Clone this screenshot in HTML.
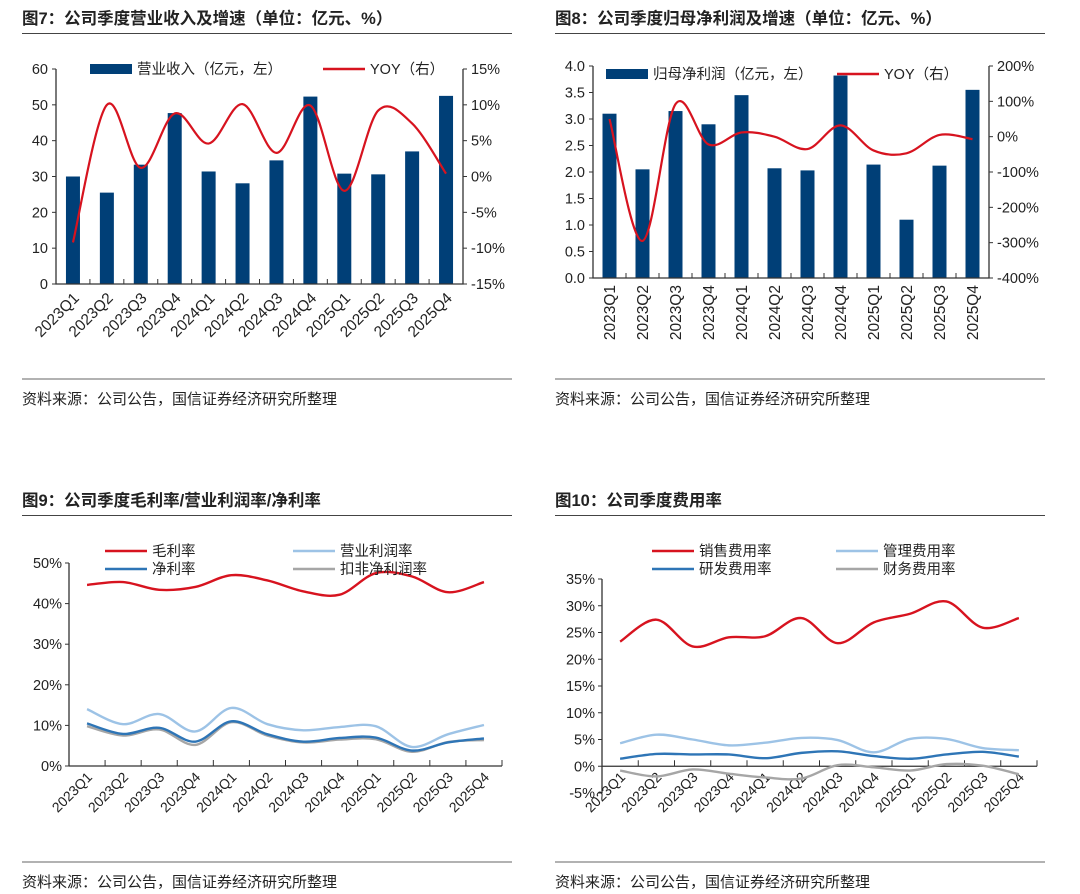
<!DOCTYPE html>
<html><head><meta charset="utf-8">
<style>
html,body{margin:0;padding:0;background:#fff;}
svg{display:block;font-family:"Liberation Sans","Noto Sans CJK SC",sans-serif;}
</style></head>
<body>
<svg id="root" width="1080" height="894" viewBox="0 0 1080 894" xmlns="http://www.w3.org/2000/svg">
<g>
<text x="22" y="24" font-size="16.5" font-weight="bold" fill="#222">图7：公司季度营业收入及增速（单位：亿元、%）</text>
<line x1="22" y1="33.5" x2="512" y2="33.5" stroke="#444" stroke-width="1"/>
<line x1="22" y1="379" x2="512" y2="379" stroke="#666" stroke-width="1"/>
<text x="22" y="404" font-size="15" fill="#222">资料来源：公司公告，国信证券经济研究所整理</text>
</g>
<g>
<text x="555" y="24" font-size="16.5" font-weight="bold" fill="#222">图8：公司季度归母净利润及增速（单位：亿元、%）</text>
<line x1="555" y1="33.5" x2="1045" y2="33.5" stroke="#444" stroke-width="1"/>
<line x1="555" y1="379" x2="1045" y2="379" stroke="#666" stroke-width="1"/>
<text x="555" y="404" font-size="15" fill="#222">资料来源：公司公告，国信证券经济研究所整理</text>
</g>
<g>
<text x="22" y="506" font-size="16.5" font-weight="bold" fill="#222">图9：公司季度毛利率/营业利润率/净利率</text>
<line x1="22" y1="515.5" x2="512" y2="515.5" stroke="#444" stroke-width="1"/>
<line x1="22" y1="862" x2="512" y2="862" stroke="#666" stroke-width="1"/>
<text x="22" y="887" font-size="15" fill="#222">资料来源：公司公告，国信证券经济研究所整理</text>
</g>
<g>
<text x="555" y="506" font-size="16.5" font-weight="bold" fill="#222">图10：公司季度费用率</text>
<line x1="555" y1="515.5" x2="1045" y2="515.5" stroke="#444" stroke-width="1"/>
<line x1="555" y1="862" x2="1045" y2="862" stroke="#666" stroke-width="1"/>
<text x="555" y="887" font-size="15" fill="#222">资料来源：公司公告，国信证券经济研究所整理</text>
</g>
</svg>
<script>
const quarters = ["2023Q1","2023Q2","2023Q3","2023Q4","2024Q1","2024Q2","2024Q3","2024Q4","2025Q1","2025Q2","2025Q3","2025Q4"];
const revenue = [30,25.5,33.3,47.7,31.4,28.1,34.5,52.3,30.8,30.6,37,52.5];
const revenueYoy = [-9.2,10,1.2,8.8,4.6,10.1,3.3,9.9,-2,9.2,7.4,0.4];
const revLeftTicks = [0,10,20,30,40,50,60];
const revRightTicks = [-15,-10,-5,0,5,10,15];
const profit = [3.1,2.05,3.15,2.9,3.45,2.07,2.03,3.82,2.14,1.1,2.12,3.55];
const profitYoy = [50,-295,92,-22,12,0,-35,32,-39,-47,5,-7];
const profLeftTicks = [0,0.5,1,1.5,2,2.5,3,3.5,4];
const profRightTicks = [-400,-300,-200,-100,0,100,200];
const grossMargin = [44.6,45.3,43.4,44.1,47,45.7,43,42.2,47.5,46.7,42.8,45.3];
const opMargin = [14,10.3,12.8,8.5,14.3,10.3,8.8,9.6,9.8,4.7,7.8,10.1];
const netMargin = [10.5,7.9,9.4,6,11,7.8,6,6.9,7,3.8,5.8,6.8];
const deductedMargin = [9.8,7.5,9,5.2,10.8,7.5,5.8,6.5,6.6,3.5,5.9,6.4];
const marginTicks = [0,10,20,30,40,50];
const salesExp = [23.3,27.4,22.4,24.1,24.3,27.7,23,26.9,28.5,30.8,25.9,27.7];
const mgmtExp = [4.3,5.9,5,3.9,4.4,5.3,4.9,2.6,5.1,5.1,3.4,3.0];
const rdExp = [1.4,2.3,2.2,2.2,1.5,2.5,2.8,1.9,1.4,2.2,2.7,1.8];
const finExp = [-0.8,-1.9,-0.6,-1.4,-2.1,-2.3,0.2,-0.2,-0.8,0.4,0.1,-1.5];
const expTicks = [-5,0,5,10,15,20,25,30,35];

const NS="http://www.w3.org/2000/svg";
const root=document.getElementById('root');
function mk(tag,attrs,parent){const e=document.createElementNS(NS,tag);for(const k in attrs)e.setAttribute(k,attrs[k]);(parent||root).appendChild(e);return e;}
function smooth(pts){
  let d="M"+pts[0][0]+","+pts[0][1];
  for(let i=0;i<pts.length-1;i++){
    const p0=pts[Math.max(0,i-1)],p1=pts[i],p2=pts[i+1],p3=pts[Math.min(pts.length-1,i+2)];
    const t=1/6;
    d+=" C"+(p1[0]+(p2[0]-p0[0])*t)+","+(p1[1]+(p2[1]-p0[1])*t)+" "+(p2[0]-(p3[0]-p1[0])*t)+","+(p2[1]-(p3[1]-p1[1])*t)+" "+p2[0]+","+p2[1];
  }
  return d;
}
function linScale(d0,d1,r0,r1){return v=>r0+(v-d0)*(r1-r0)/(d1-d0);}

function barChart(cfg){
  const g=mk('g',{});
  
  
  const n=quarters.length, slot=(cfg.x1-cfg.x0)/n;
  const xc=i=>cfg.x0+slot*(i+0.5);
  const yL=linScale(cfg.lt[0],cfg.lt[cfg.lt.length-1],cfg.yb,cfg.yt);
  const yR=linScale(cfg.rt[0],cfg.rt[cfg.rt.length-1],cfg.yb,cfg.yt);
  cfg.bars.forEach((v,i)=>{
    const r=mk('rect',{x:xc(i)-7,y:yL(v),width:14,height:cfg.yb-yL(v),fill:'#003f77'},g);
    
    
  });
  const ax=mk('path',{d:`M${cfg.x0},${cfg.yt}V${cfg.yb}H${cfg.x1}V${cfg.yt}`,fill:'none',stroke:'#333','stroke-width':1.3},g);
  
  
  cfg.lt.forEach(v=>{
    mk('line',{x1:cfg.x0-4,x2:cfg.x0,y1:yL(v),y2:yL(v),stroke:'#333'},g);
    const t=mk('text',{x:cfg.x0-8,y:yL(v)+5,'text-anchor':'end','font-size':14.5,fill:'#222'},g);
    t.textContent=cfg.lfmt(v);
    
    
  });
  cfg.rt.forEach(v=>{
    mk('line',{x1:cfg.x1,x2:cfg.x1+4,y1:yR(v),y2:yR(v),stroke:'#333'},g);
    const t=mk('text',{x:cfg.x1+8,y:yR(v)+5,'font-size':14.5,fill:'#222'},g);
    t.textContent=v+'%';
    
    
  });
  for(let i=1;i<n;i++) mk('line',{x1:cfg.x0+slot*i,x2:cfg.x0+slot*i,y1:cfg.yb-5,y2:cfg.yb,stroke:'#333'},g);
  quarters.forEach((q,i)=>{
    let t;
    if(cfg.rot===-90){t=mk('text',{x:0,y:0,'text-anchor':'end','font-size':15.5,fill:'#222',transform:`translate(${xc(i)+5.5},${cfg.yb+7}) rotate(-90)`},g);}
    else{t=mk('text',{x:0,y:0,'text-anchor':'end','font-size':15.5,fill:'#222',transform:`translate(${xc(i)+7},${cfg.yb+15}) rotate(-45)`},g);}
    t.textContent=q;
    
    
  });
  const ln=mk('path',{d:smooth(cfg.line.map((v,i)=>[xc(i),yR(v)])),fill:'none',stroke:'#d7131f','stroke-width':2.2},g);
  
  
  const lr=mk('rect',{x:cfg.lg[0],y:cfg.lg[1]-5,width:42,height:10,fill:'#003f77'},g);
  
  
  const lt1=mk('text',{x:cfg.lg[0]+47,y:cfg.lg[1]+5,'font-size':14.5,fill:'#222'},g);
  lt1.textContent=cfg.barLabel;
  
  
  const ll=mk('line',{x1:cfg.lg[2],x2:cfg.lg[2]+42,y1:cfg.lg[1],y2:cfg.lg[1],stroke:'#d7131f','stroke-width':2.5},g);
  
  
  const lt2=mk('text',{x:cfg.lg[2]+47,y:cfg.lg[1]+5,'font-size':14.5,fill:'#222'},g);
  lt2.textContent='YOY（右）';
  
  
}
barChart({name:'chart7-revenue',x0:56,x1:463,yt:69,yb:284,lt:revLeftTicks,rt:revRightTicks,lfmt:v=>String(v),bars:revenue,line:revenueYoy,rot:-45,lg:[90,69,323],barLabel:'营业收入（亿元，左）'});
barChart({name:'chart8-profit',x0:593,x1:989,yt:66,yb:278,lt:profLeftTicks,rt:profRightTicks,lfmt:v=>v.toFixed(1),bars:profit,line:profitYoy,rot:-90,lg:[606,74,837],barLabel:'归母净利润（亿元，左）'});

function lineChart(cfg){
  const g=mk('g',{});
  
  
  const n=quarters.length, slot=(cfg.x1-cfg.x0)/n;
  const xc=i=>cfg.x0+slot*(i+0.5);
  const y=linScale(cfg.ticks[0],cfg.ticks[cfg.ticks.length-1],cfg.yb,cfg.yt);
  const y0=y(0);
  const a1=mk('line',{x1:cfg.x0,x2:cfg.x0,y1:cfg.yt,y2:cfg.yb,stroke:'#333','stroke-width':1.3},g);
  
  
  const a2=mk('line',{x1:cfg.x0,x2:cfg.x1,y1:y0,y2:y0,stroke:'#333','stroke-width':1.3},g);
  
  
  for(let i=1;i<=n;i++) mk('line',{x1:cfg.x0+slot*i,x2:cfg.x0+slot*i,y1:y0-6,y2:y0,stroke:'#333'},g);
  cfg.ticks.forEach(v=>{
    mk('line',{x1:cfg.x0-4,x2:cfg.x0,y1:y(v),y2:y(v),stroke:'#333'},g);
    const t=mk('text',{x:cfg.x0-7,y:y(v)+5,'text-anchor':'end','font-size':14.5,fill:'#222'},g);
    t.textContent=v+'%';
    
    
  });
  quarters.forEach((q,i)=>{
    const t=mk('text',{x:0,y:0,'text-anchor':'end','font-size':14,fill:'#222',transform:`translate(${xc(i)+6},${cfg.lblY}) rotate(-45)`},g);
    t.textContent=q;
    
    
  });
  cfg.series.forEach((s,k)=>{
    const p=mk('path',{d:smooth(s.data.map((v,i)=>[xc(i),y(v)])),fill:'none',stroke:s.color,'stroke-width':2.4},g);
    
    
    const lx=s.pos[0]===0?cfg.lg[0]:cfg.lg[1], ly=s.pos[1]===0?551:569;
    const sw=mk('line',{x1:lx,x2:lx+42,y1:ly,y2:ly,stroke:s.color,'stroke-width':2.6},g);
    
    
    const t=mk('text',{x:lx+47,y:ly+5,'font-size':14.5,fill:'#222'},g);
    t.textContent=s.label;
    
    
  });
}
lineChart({name:'chart9-margins',x0:69,x1:502,yt:563,yb:766,ticks:marginTicks,lblY:778,lg:[105,293],series:[
  {id:'gross-margin',label:'毛利率',color:'#d7131f',data:grossMargin,pos:[0,0]},
  {id:'operating-margin',label:'营业利润率',color:'#9dc3e6',data:opMargin,pos:[1,0]},
  {id:'deducted-net-margin',label:'扣非净利润率',color:'#a6a6a6',data:deductedMargin,pos:[1,1]},
  {id:'net-margin',label:'净利率',color:'#2e75b6',data:netMargin,pos:[0,1]}
]});
lineChart({name:'chart10-expense-ratios',x0:602,x1:1037,yt:579,yb:793,ticks:expTicks,lblY:778,lg:[652,836],series:[
  {id:'sales-expense',label:'销售费用率',color:'#d7131f',data:salesExp,pos:[0,0]},
  {id:'admin-expense',label:'管理费用率',color:'#9dc3e6',data:mgmtExp,pos:[1,0]},
  {id:'rd-expense',label:'研发费用率',color:'#2e75b6',data:rdExp,pos:[0,1]},
  {id:'finance-expense',label:'财务费用率',color:'#a6a6a6',data:finExp,pos:[1,1]}
]});
</script>
</body></html>
